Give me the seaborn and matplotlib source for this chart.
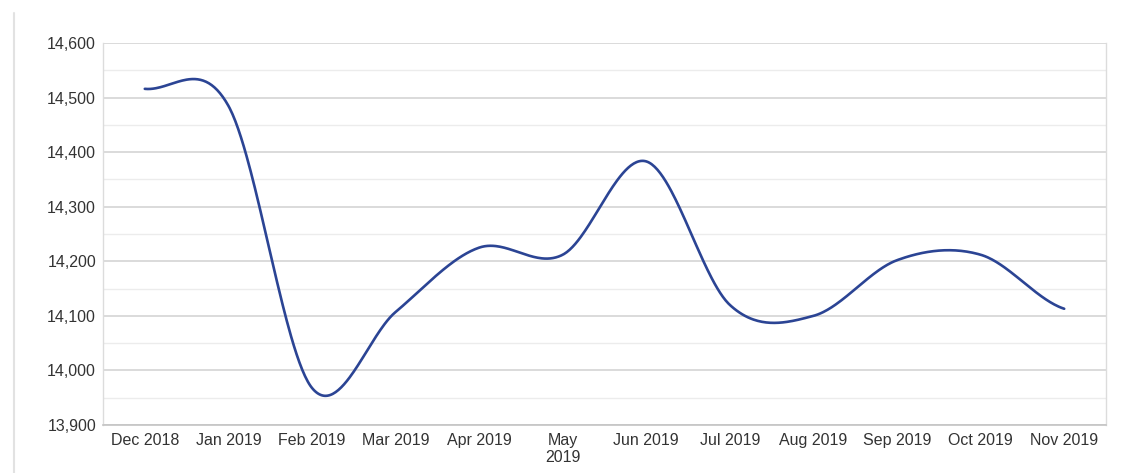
import numpy as np
import pandas as pd
import seaborn as sns
import matplotlib.pyplot as plt
from matplotlib.lines import Line2D
from matplotlib.ticker import MultipleLocator, FuncFormatter

# data
months = ['Dec 2018', 'Jan 2019', 'Feb 2019', 'Mar 2019', 'Apr 2019', 'May\n2019',
          'Jun 2019', 'Jul 2019', 'Aug 2019', 'Sep 2019', 'Oct 2019', 'Nov 2019']
values = [14516, 14485, 13968, 14107, 14225, 14212,
          14383, 14120, 14100, 14202, 14212, 14113]

line_color = '#2b4494'


# catmull-rom smoothing, like the "smoothed line" option in office charts
def smooth_line(y, per_seg=60):
    y = np.asarray(y, float)
    n = len(y)
    ext = np.concatenate([[y[0]], y, [y[-1]]])
    m = (ext[2:] - ext[:-2]) / 2
    xs, ys = [], []
    for i in range(n - 1):
        t = np.linspace(0, 1, per_seg, endpoint=(i == n - 2))
        h00 = 2 * t ** 3 - 3 * t ** 2 + 1
        h10 = t ** 3 - 2 * t ** 2 + t
        h01 = -2 * t ** 3 + 3 * t ** 2
        h11 = t ** 3 - t ** 2
        xs.append(i + t)
        ys.append(h00 * y[i] + h10 * m[i] + h01 * y[i + 1] + h11 * m[i + 1])
    return np.concatenate(xs), np.concatenate(ys)


pos = np.arange(len(months))
sx, sy = smooth_line(values)
smooth = pd.DataFrame({'pos': sx, 'value': sy})

sns.set_style('white')
plt.rcParams['font.family'] = ['Liberation Sans', 'DejaVu Sans']

fig = plt.figure(figsize=(11.34, 4.73), dpi=100)
ax = fig.add_axes([103 / 1134, 1 - 425 / 473, (1106 - 103) / 1134, (425 - 43) / 473])

sns.lineplot(data=smooth, x='pos', y='value', color=line_color, linewidth=1.9, ax=ax)

ax.set_xlim(-0.5, len(months) - 0.5)
ax.set_ylim(13900, 14600)
ax.yaxis.set_major_locator(MultipleLocator(100))
ax.yaxis.set_minor_locator(MultipleLocator(50))
ax.yaxis.set_major_formatter(FuncFormatter(lambda v, p: f'{int(v):,}'))
ax.set_xticks(pos)
ax.set_xticklabels(months, linespacing=1.15)
ax.grid(True, which='major', axis='y', color='#d4d4d4', linewidth=1.2)
ax.grid(True, which='minor', axis='y', color='#ececec', linewidth=1.0)
ax.set_axisbelow(True)
ax.set_xlabel('')
ax.set_ylabel('')

ax.tick_params(axis='y', which='major', length=3, color='#c8c8c8', pad=2, labelsize=11.5, labelcolor='#333333')
ax.tick_params(axis='y', which='minor', length=0)
ax.tick_params(axis='x', length=0, pad=6, labelsize=11.5, labelcolor='#333333')

for s in ['left', 'right', 'top']:
    ax.spines[s].set_color('#dcdcdc')
    ax.spines[s].set_linewidth(1.0)
ax.spines['top'].set_visible(False)
ax.spines['bottom'].set_color('#c4c4c4')
ax.spines['bottom'].set_linewidth(1.2)

# page frame line on the far left
fig.add_artist(Line2D([14 / 1134, 14 / 1134], [0, 1 - 13 / 473], color='#e2e2e2', linewidth=1.5))

fig.savefig('out.png', dpi=100)
